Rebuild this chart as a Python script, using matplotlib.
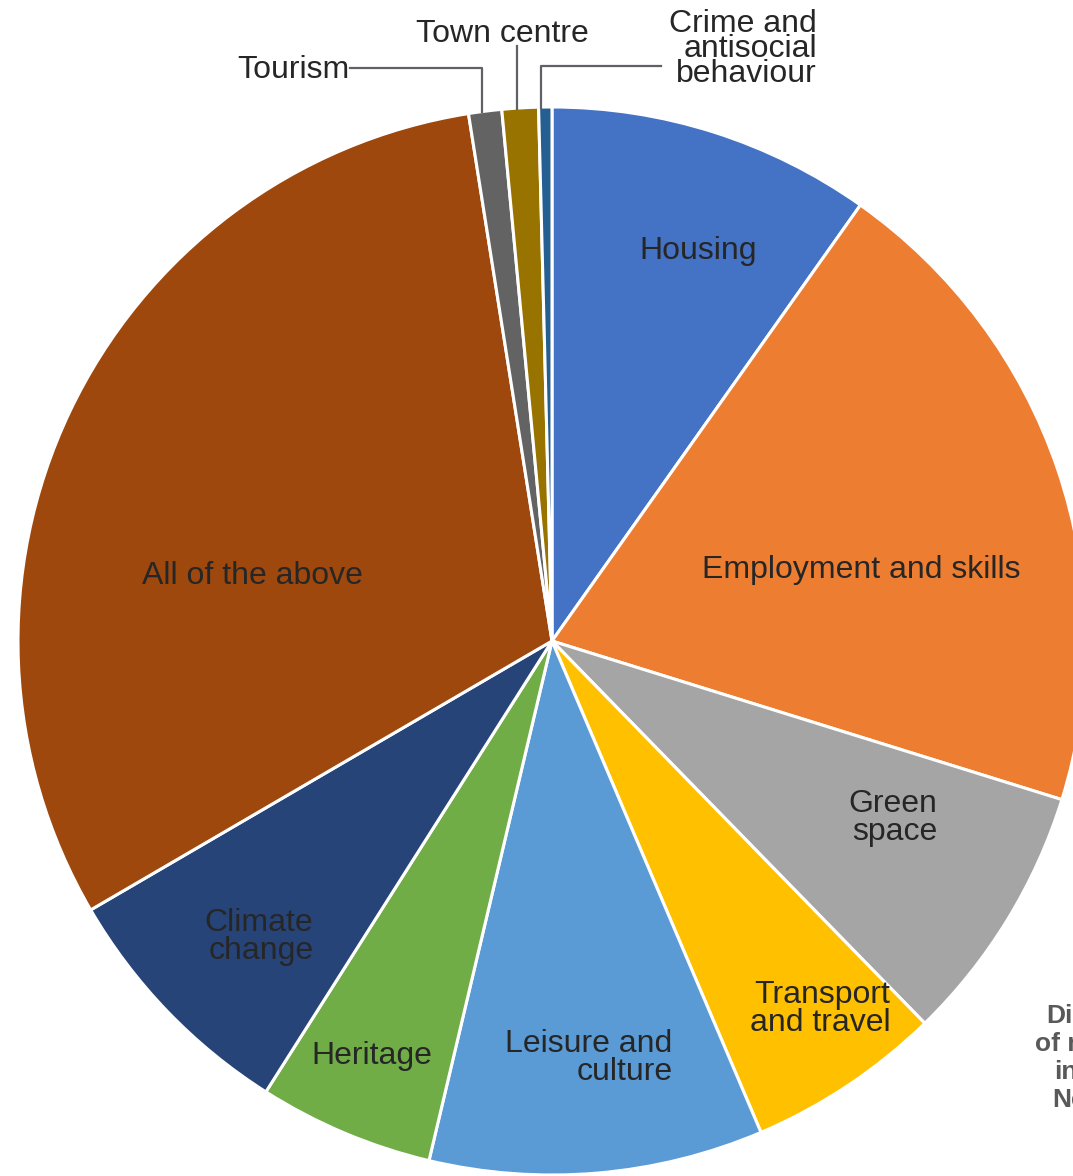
import matplotlib.pyplot as plt
import numpy as np

plt.rcParams['font.family'] = ['Liberation Sans', 'DejaVu Sans']

labels = ['Housing', 'Employment and skills', 'Green\nspace', 'Transport\nand travel',
          'Leisure and\nculture', 'Heritage', 'Climate\nchange', 'All of the above',
          'Tourism', 'Town centre', 'Crime and\nantisocial\nbehaviour']
shares = [9.8, 20.0, 7.9, 5.9, 10.1, 5.3, 7.6, 30.9, 1.0, 1.1, 0.4]
colors = ['#4472C4', '#ED7D31', '#A5A5A5', '#FFC000', '#5B9BD5', '#70AD47',
          '#264478', '#9E480E', '#636363', '#997300', '#255E91']

# inner label positions (pixels, top-left origin)
inner_pos = [(698, 251), (861, 570), (893, 818), (820, 1009), (589, 1058),
             (372, 1056), (259, 937), (252, 576)]

W, H = 1073, 1176
fig = plt.figure(figsize=(W / 100, H / 100), dpi=100)
ax = fig.add_axes([0, 0, 1, 1])

def py(y):
    # pixel row from top -> data y
    return H - y

cx, cy, r = 552, 641, 534
ax.pie(shares, colors=colors, startangle=90, counterclock=False,
       center=(cx, py(cy)), radius=r, frame=True,
       wedgeprops=dict(edgecolor='white', linewidth=2.2))
ax.set_xlim(0, W)
ax.set_ylim(0, H)
ax.axis('off')

fs = 23
tc = '#262626'
for (x, y), lab in zip(inner_pos, labels):
    ax.text(x, py(y), lab, ha='center', va='center', fontsize=fs, color=tc,
            multialignment='right', linespacing=0.88)

lc = '#5f6068'
# Tourism
ax.text(349, py(70), labels[8], ha='right', va='center', fontsize=fs, color=tc)
ax.plot([350, 482, 482], [py(68), py(68), py(112)], color=lc, lw=1.6)
# Town centre
ax.text(502, py(34), labels[9], ha='center', va='center', fontsize=fs, color=tc)
ax.plot([517, 517], [py(46), py(109)], color=lc, lw=1.6)
# Crime
ax.text(817, py(49), labels[10], ha='right', va='center', fontsize=fs, color=tc,
        multialignment='right', linespacing=0.8)
ax.plot([661, 541, 541], [py(66), py(66), py(108)], color=lc, lw=1.6)

# title, cut off at the right edge as in the source
for x, y, t in [(1046, 1016, 'Distribution'), (1035, 1044, 'of responses'),
                (1054, 1072, 'in'), (1052, 1100, 'Newport')]:
    ax.text(x, py(y), t, ha='left', va='center', fontsize=19, color='#595959',
            fontweight='bold')

fig.savefig('out.png', dpi=100)
